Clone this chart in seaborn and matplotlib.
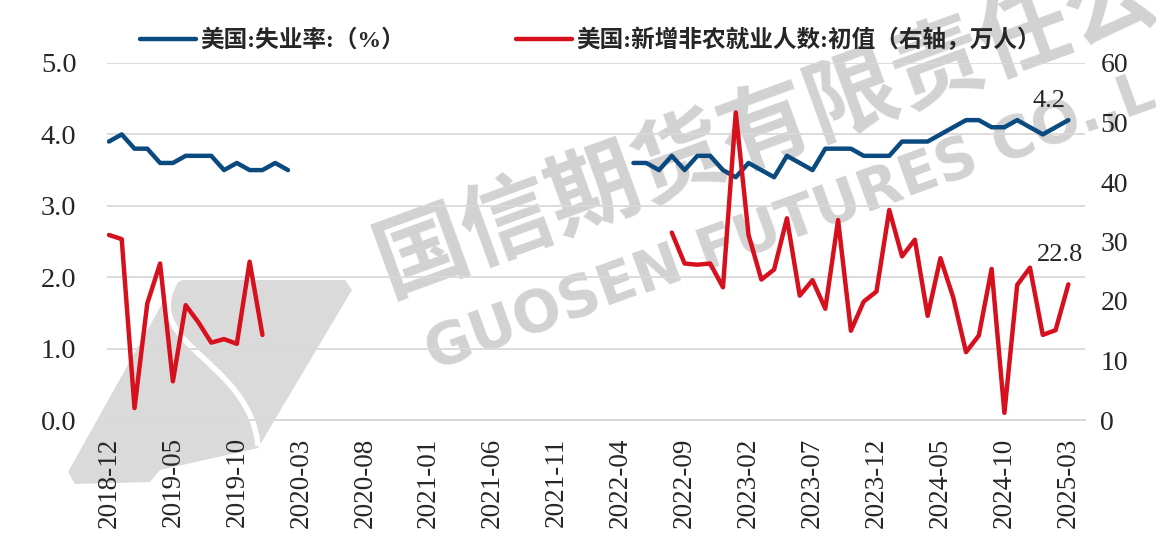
import numpy as np
import pandas as pd
import matplotlib
matplotlib.use('Agg')
import matplotlib.pyplot as plt
from matplotlib.patches import Polygon, PathPatch
from matplotlib.path import Path
import seaborn as sns

sns.set_style('white')
plt.rcParams['font.family'] = ['Liberation Serif', 'Noto Sans CJK SC', 'DejaVu Sans']

# monthly axis, 2018-12 .. 2025-03
months = pd.date_range('2018-12-01', '2025-03-01', freq='MS')

# unemployment rate (%), two segments
unemp_start_1 = '2018-12'
unemp_vals_1 = [3.9, 4.0, 3.8, 3.8, 3.6, 3.6, 3.7, 3.7, 3.7, 3.5, 3.6, 3.5, 3.5, 3.6, 3.5]
unemp_start_2 = '2022-05'
unemp_vals_2 = [3.6, 3.6, 3.5, 3.7, 3.5, 3.7, 3.7, 3.5, 3.4, 3.6, 3.5, 3.4, 3.7, 3.6, 3.5,
                3.8, 3.8, 3.8, 3.7, 3.7, 3.7, 3.9, 3.9, 3.9, 4.0, 4.1, 4.2, 4.2, 4.1, 4.1,
                4.2, 4.1, 4.0, 4.1, 4.2]

# nonfarm payrolls, initial (10k persons), two segments
nfp_start_1 = '2018-12'
nfp_vals_1 = [31.1, 30.4, 2.0, 19.6, 26.3, 6.5, 19.3, 16.4, 13.0, 13.6, 12.8, 26.6, 14.3]
nfp_start_2 = '2022-08'
nfp_vals_2 = [31.5, 26.3, 26.1, 26.3, 22.3, 51.7, 31.1, 23.6, 25.3, 33.9, 20.9, 23.5, 18.7,
              33.6, 15.0, 19.9, 21.6, 35.3, 27.5, 30.3, 17.5, 27.2, 20.6, 11.4, 14.2, 25.4,
              1.2, 22.7, 25.6, 14.3, 15.1, 22.8]

tick_step = 5
unemp_label = '美国:失业率:（%）'
nfp_label = '美国:新增非农就业人数:初值（右轴，万人）'


def build_series(parts):
    frames = []
    for seg, (start, vals) in enumerate(parts):
        dates = pd.date_range(start + '-01', periods=len(vals), freq='MS')
        idx = [months.get_loc(d) for d in dates]
        frames.append(pd.DataFrame({'x': idx, 'value': vals, 'seg': seg}))
    return pd.concat(frames, ignore_index=True)


unemp_df = build_series([(unemp_start_1, unemp_vals_1), (unemp_start_2, unemp_vals_2)])
nfp_df = build_series([(nfp_start_1, nfp_vals_1), (nfp_start_2, nfp_vals_2)])

blue = '#0B4A7E'
red = '#D7101E'
grid_c = '#D9D9D9'
wm_c = '#D2D2D2'

W, H = 1156, 545
fig = plt.figure(figsize=(W / 100, H / 100), dpi=100)

# background layer for the watermark, in pixel units
bg = fig.add_axes([0, 0, 1, 1], zorder=-1)
bg.set_xlim(0, W)
bg.set_ylim(H, 0)
bg.axis('off')
bg.add_patch(Polygon([(68, 472), (172, 286), (182, 280), (345, 280), (352, 290),
                      (258, 448), (160, 470), (150, 482), (75, 484)],
                     closed=True, facecolor='#DADADA', edgecolor='none'))
s_curve = Path([(175, 282), (140, 345), (250, 360), (258, 446)],
               [Path.MOVETO, Path.CURVE4, Path.CURVE4, Path.CURVE4])
bg.add_patch(PathPatch(s_curve, facecolor='none', edgecolor='white', linewidth=4))
bg.text(379, 269, '国信期货有限责任公', fontsize=66, color=wm_c, rotation=20,
        rotation_mode='anchor', ha='left', va='center', fontweight='bold',
        family=['Noto Sans CJK SC'])
bg.text(428, 356, 'GUOSEN FUTURES CO.,L', fontsize=41, color=wm_c, rotation=20,
        rotation_mode='anchor', ha='left', va='center', fontweight='bold',
        family=['DejaVu Sans'])

ax = fig.add_axes([107 / W, 1 - 420 / H, (1085 - 107) / W, (420 - 63) / H])
ax2 = ax.twinx()

for seg, sub in unemp_df.groupby('seg'):
    sns.lineplot(data=sub, x='x', y='value', ax=ax, color=blue, linewidth=3.2,
                 label=unemp_label if seg == 0 else None, legend=False,
                 solid_capstyle='round')
for seg, sub in nfp_df.groupby('seg'):
    sns.lineplot(data=sub, x='x', y='value', ax=ax2, color=red, linewidth=3.2,
                 label=nfp_label if seg == 0 else None, legend=False,
                 solid_capstyle='round')

ax.set_ylim(0, 5)
ax2.set_ylim(0, 60)
ax.set_xlim(-0.15, 76.3)
ax.set_yticks(np.arange(0, 5.01, 1.0))
ax.set_yticklabels([f'{v:.1f}' for v in np.arange(0, 5.01, 1.0)])
ax2.set_yticks(np.arange(0, 61, 10))

ticks = list(range(0, len(months), tick_step))
ax.set_xticks(ticks)
ax.set_xticklabels([months[i].strftime('%Y-%m') for i in ticks], rotation=90)

ax.grid(axis='y', color=grid_c, linewidth=1.3)
ax.set_axisbelow(True)
ax.set_xlabel('')
ax.set_ylabel('')
ax2.set_ylabel('')

for a in (ax, ax2):
    for s in ('top', 'left', 'right'):
        a.spines[s].set_visible(False)
    a.spines['bottom'].set_color(grid_c)
    a.spines['bottom'].set_linewidth(1.3)
    a.patch.set_visible(False)

ax.tick_params(axis='x', direction='out', length=8.5, color=grid_c, width=1.3,
               labelsize=19.5, pad=4)
ax.tick_params(axis='y', length=0, labelsize=20.5, pad=22)
ax2.tick_params(axis='y', length=0, labelsize=20, pad=11)

# end-point labels
ax.annotate(f'{unemp_vals_2[-1]:.1f}', xy=(unemp_df['x'].iloc[-1], unemp_vals_2[-1]),
            xytext=(-14, 14), textcoords='offset points', ha='center', va='center',
            fontsize=19)
ax2.annotate(f'{nfp_vals_2[-1]:.1f}', xy=(nfp_df['x'].iloc[-1], nfp_vals_2[-1]),
             xytext=(-6, 21), textcoords='offset points', ha='center', va='center',
             fontsize=19)

h1, l1 = ax.get_legend_handles_labels()
h2, l2 = ax2.get_legend_handles_labels()
leg = fig.legend(h1 + h2, l1 + l2, loc='center left', bbox_to_anchor=(0.103, 0.926),
                 ncol=2, frameon=False, handlelength=2.35, columnspacing=4.7,
                 handletextpad=0.2,
                 prop={'size': 17, 'weight': 'bold',
                       'family': ['Liberation Serif', 'Noto Sans CJK SC']})

fig.savefig('out.png', dpi=100)
